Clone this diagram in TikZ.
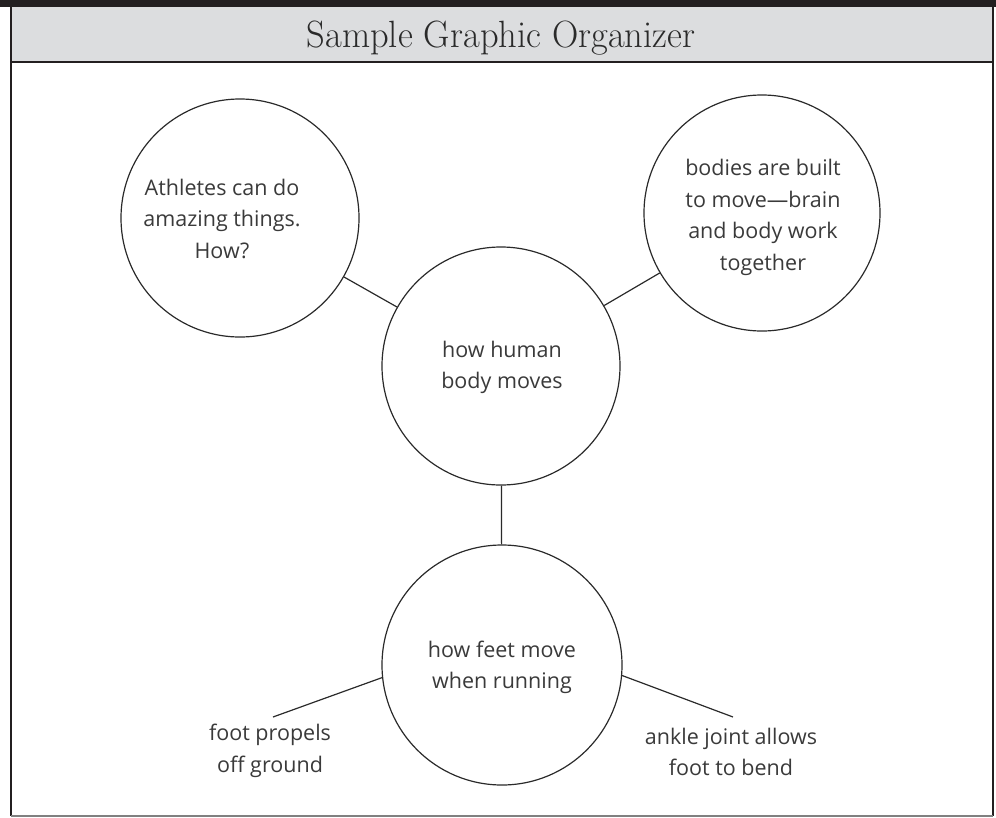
\documentclass[tikz,border=0pt]{standalone}
\usepackage{fontspec}
\newfontfamily\hand{Open Sans}
\definecolor{hdr}{HTML}{DCDDDF}
\definecolor{bar}{HTML}{231F20}
\definecolor{ink}{HTML}{2A2A2A}
\definecolor{txt}{HTML}{3A3A3A}
\tikzset{
  bubble/.style={circle, draw=ink, line width=1.2pt, inner sep=0pt},
  htext/.style={align=center, text=txt, font=\hand\fontsize{21.5}{31.5}\selectfont},
  link/.style={draw=ink, line width=1.2pt},
  frame/.style={draw=bar, line width=1.6pt}
}
\begin{document}
\begin{tikzpicture}[x=1pt, y=-1pt]
\useasboundingbox (0,0) rectangle (996,817);
% header
\fill[hdr] (11,7) rectangle (993,62);
\fill[bar] (0,0) rectangle (996,7);
\draw[frame] (11,62) -- (993,62);
\draw[frame] (11,7) -- (11,816);
\draw[frame] (993,7) -- (993,816);
\draw[draw=gray, line width=1.2pt] (11,816) -- (993,816);
\node[anchor=base, text=ink, font=\fontsize{38}{40}\selectfont] (title) at (501,47) {\scalebox{0.96}[1]{Sample Graphic Organizer}};
% circles
\node[bubble, minimum size=238pt] (tl) at (240,218) {};
\node[bubble, minimum size=236pt] (tr) at (762,213) {};
\node[bubble, minimum size=238pt] (c) at (501,366) {};
\node[bubble, minimum size=240pt] (b) at (502,665) {};
% texts
\node[htext] (tlt) at (222,218.5) {Athletes can do\\amazing things.\\How?};
\node[htext] (trt) at (763,217.5) {bodies are built\\to move—brain\\and body work\\together};
\node[htext] (ct) at (502,367.5) {how human\\body moves};
\node[htext] (bt) at (502,667.5) {how feet move\\when running};
\node[htext] (lt) at (270,751) {foot propels\\off ground};
\node[htext] (rt) at (731,752) {ankle joint allows\\foot to bend};
% connectors
\coordinate (le) at (273,717);
\coordinate (re) at (733,717);
\draw[link] (tl) -- (c);
\draw[link] (tr) -- (c);
\draw[link] (c) -- (b);
\draw[link] (b.186) -- (le);
\draw[link] (b.355) -- (re);
\end{tikzpicture}
\end{document}
